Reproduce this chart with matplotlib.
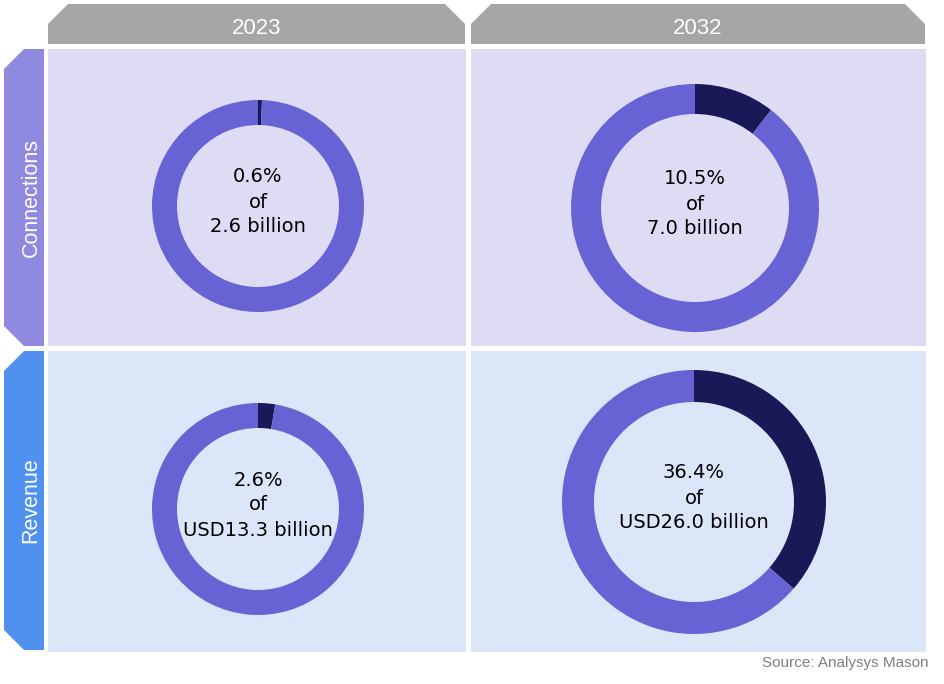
import matplotlib
matplotlib.use("Agg")
import matplotlib.pyplot as plt
from matplotlib.patches import Polygon, Rectangle

# data
years = ["2023", "2032"]
rows = ["Connections", "Revenue"]
shares = [[0.6, 10.5], [2.6, 36.4]]          # % share per row / year
totals = [["2.6 billion", "7.0 billion"], ["USD13.3 billion", "USD26.0 billion"]]

# colours
dark = "#1b1858"
light = "#6763d4"
head_col = "#a6a6a6"
row_tab_cols = ["#8f89e0", "#5090ef"]
panel_cols = ["#dedcf5", "#dbe6f9"]

W, H = 944, 684
fig = plt.figure(figsize=(W / 100, H / 100), dpi=100)
fig.patch.set_facecolor("white")

# background axes in pixel coordinates
bg = fig.add_axes([0, 0, 1, 1])
bg.set_xlim(0, W)
bg.set_ylim(H, 0)
bg.axis("off")

col_x = [(48, 466), (471, 926)]
row_y = [(49, 346), (351, 652)]
donut_geo = [[(258, 206, 106, 81), (695, 208, 124, 94)],
             [(258, 509, 106, 81), (694, 502, 132, 100)]]

# year tabs
c = 20
for (x0, x1), yr in zip(col_x, years):
    x1 = x1 - 1
    pts = [(x0, 44), (x0, 4 + c), (x0 + c, 4), (x1 - c, 4), (x1, 4 + c), (x1, 44)]
    bg.add_patch(Polygon(pts, closed=True, fc=head_col, ec="none"))
    bg.text((x0 + x1) / 2, 29, yr, color="white", fontsize=16,
            family="Liberation Sans", ha="center", va="center")

# row tabs and panels
for i, ((y0, y1), name) in enumerate(zip(row_y, rows)):
    yb = y1 - 2 if i == 1 else y1
    pts = [(44, y0), (24, y0), (4, y0 + c), (4, yb - c), (24, yb), (44, yb)]
    bg.add_patch(Polygon(pts, closed=True, fc=row_tab_cols[i], ec="none"))
    bg.text(31, (y0 + yb) / 2, name, color="white", fontsize=15.5,
            family="Liberation Sans", rotation=90, ha="center", va="center")
    for (x0, x1) in col_x:
        bg.add_patch(Rectangle((x0, y0), x1 - x0, y1 - y0, fc=panel_cols[i], ec="none"))

bg.text(928, 663, "Source: Analysys Mason", color="#7f7f7f", fontsize=11,
        family="Liberation Sans", ha="right", va="center")

# donuts
for i in range(2):
    for j in range(2):
        cx, cy, r, ri = donut_geo[i][j]
        ax = fig.add_axes([(cx - r) / W, 1 - (cy + r) / H, 2 * r / W, 2 * r / H])
        pct = shares[i][j]
        ax.pie([pct, 100 - pct], colors=[dark, light], startangle=90,
               counterclock=False, radius=1,
               wedgeprops=dict(width=(r - ri) / r, edgecolor="none"))
        ax.set_xlim(-1, 1)
        ax.set_ylim(-1, 1)
        ax.axis("off")
        ty = cy - 4
        for k, line in enumerate([f"{pct}%", "of", totals[i][j]]):
            bg.text(cx, ty + (k - 1) * 25, line, color="black", fontsize=14,
                    ha="center", va="center", zorder=5)

fig.savefig("out.png", dpi=100)
